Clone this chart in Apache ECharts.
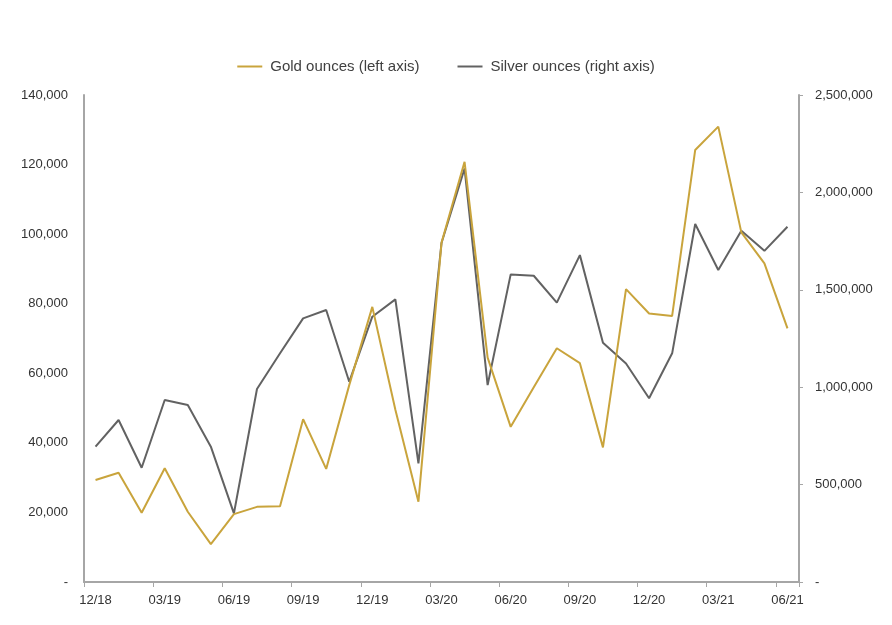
<!DOCTYPE html>
<html>
<head>
<meta charset="utf-8">
<script src="https://cdn.jsdelivr.net/npm/echarts@6/dist/echarts.min.js"></script>
<style>
html,body{margin:0;padding:0;background:#fff;}
#chart{width:892px;height:625px;}
</style>
</head>
<body>
<div id="chart"></div>
<script>
var categories = ['12/18','01/19','02/19','03/19','04/19','05/19','06/19','07/19','08/19','09/19','10/19','11/19',
  '12/19','01/20','02/20','03/20','04/20','05/20','06/20','07/20','08/20','09/20','10/20','11/20',
  '12/20','01/21','02/21','03/21','04/21','05/21','06/21'];
var goldOunces = [29300,31400,19900,32700,20200,10900,19500,21600,21800,46800,32500,56600,
  79100,49500,23100,97500,120800,64500,44600,56000,67200,62900,38700,84200,
  77200,76500,124200,130900,100500,91600,72900];
var silverOunces = [694600,831500,586700,934200,908500,694600,352600,990700,1174000,1353500,1396000,1028000,
  1362000,1451000,609000,1740000,2123000,1011000,1579000,1572000,1434000,1678000,1228000,1122000,
  943000,1174000,1837600,1601500,1803000,1700000,1824000];
var seriesNames = ['Gold ounces (left axis)','Silver ounces (right axis)'];

var FONT = 'Liberation Sans';
function fmt(v){ return v === 0 ? '-' : v.toLocaleString('en-US'); }

var chart = echarts.init(document.getElementById('chart'), null, {renderer:'canvas'});
chart.setOption({
  animation:false,
  backgroundColor:'#ffffff',
  legend:{
    top:54, left:'center',
    icon:'rect', itemWidth:25, itemHeight:2, itemGap:38,
    textStyle:{fontFamily:FONT, fontSize:15, color:'#404040', padding:[0,0,0,3]},
    data:seriesNames
  },
  grid:{left:84, right:93, top:95, bottom:43, containLabel:false},
  xAxis:{
    type:'category', data:categories, boundaryGap:true,
    axisLine:{lineStyle:{color:'#a6a6a6', width:2}},
    axisTick:{show:true, interval:2, length:5, lineStyle:{color:'#a6a6a6', width:1}},
    axisLabel:{interval:2, margin:12, fontFamily:FONT, fontSize:13, color:'#333'},
    splitLine:{show:false}
  },
  yAxis:[{
    type:'value', min:0, max:140000, interval:20000, position:'left',
    axisLine:{show:true, lineStyle:{color:'#a6a6a6', width:2}},
    axisTick:{show:false},
    axisLabel:{formatter:fmt, margin:16, fontFamily:FONT, fontSize:13, color:'#333'},
    splitLine:{show:false}
  },{
    type:'value', min:0, max:2500000, interval:500000, position:'right',
    axisLine:{show:true, lineStyle:{color:'#a6a6a6', width:2}},
    axisTick:{show:true, length:4, lineStyle:{color:'#a6a6a6'}},
    axisLabel:{formatter:fmt, margin:16, fontFamily:FONT, fontSize:13, color:'#333'},
    splitLine:{show:false}
  }],
  series:[{
    name:seriesNames[0], type:'line', yAxisIndex:0, data:goldOunces,
    symbol:'none', lineStyle:{color:'#c9a43c', width:2}, itemStyle:{color:'#c9a43c'}, z:3
  },{
    name:seriesNames[1], type:'line', yAxisIndex:1, data:silverOunces,
    symbol:'none', lineStyle:{color:'#626262', width:2}, itemStyle:{color:'#626262'}, z:2
  }]
});
</script>
</body>
</html>
